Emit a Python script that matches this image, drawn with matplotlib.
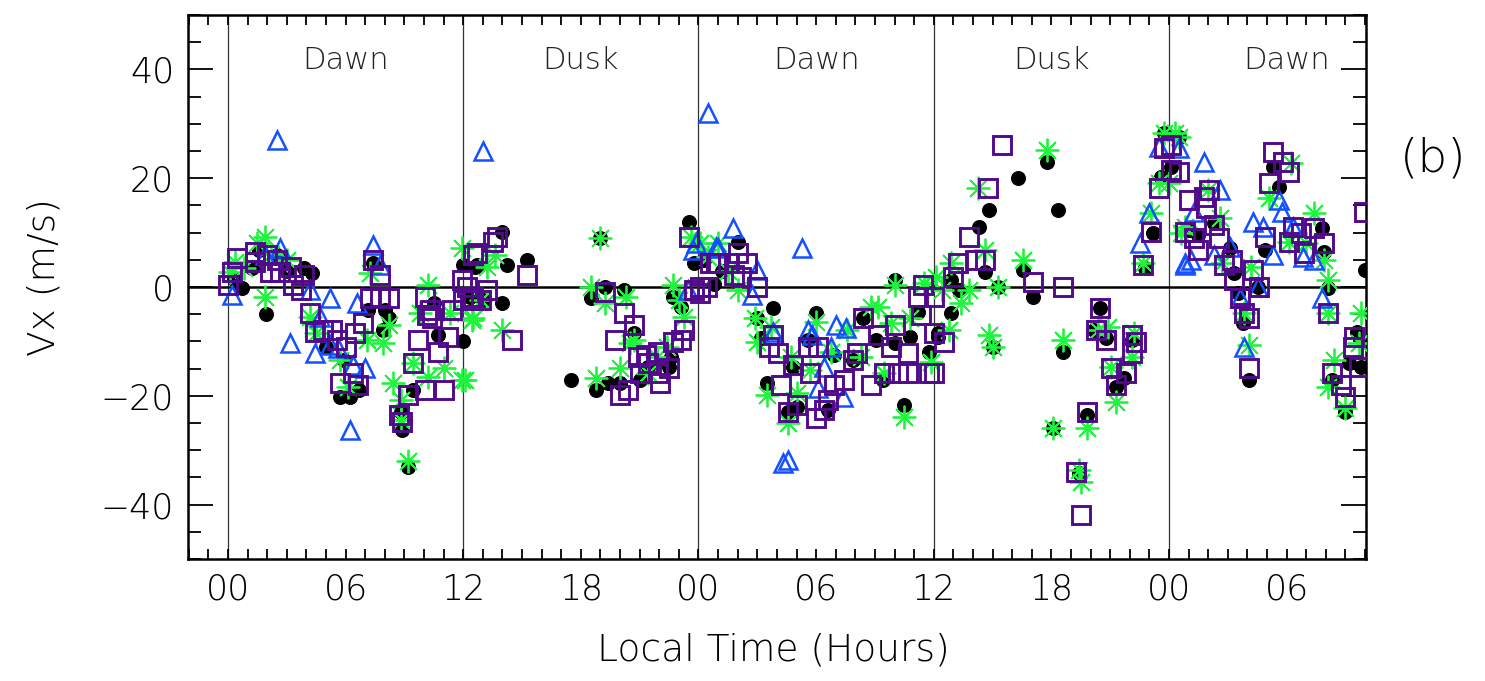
import matplotlib
matplotlib.use("Agg")
import matplotlib.pyplot as plt
from matplotlib.ticker import MultipleLocator, FixedLocator

# ---------------- data (local time in hours, Vx in m/s) ----------------
black_t = [1.94, 0.7, 1.6, 2.5, 3.9, 7.4, 7.15, 8.0, 8.2, 7.9, 5.0, 5.7, 6.2, 6.7, 8.9, 9.45, 10.5, 10.7,
           12.0, 12.0, 12.6, 5.9, 8.8, 9.2, 0.3, 1.2, 3.0, 4.3,
           14.0, 14.25, 15.25, 14.0, 12.7, 17.5, 18.75, 19.4, 20.0, 18.5, 19.25, 20.2, 19.0, 20.7, 21.4,
           21.0, 22.6, 22.5, 22.7, 23.1, 23.5, 23.75, 13.0, 12.35,
           26.0, 27.8, 30.0, 27.0, 27.2, 27.5, 28.55, 29.05, 28.8, 30.6, 32.4, 34.0, 33.05, 34.8, 35.75,
           34.5, 36.2, 33.4, 29.6, 30.9, 31.9, 34.0, 35.2, 24.3, 25.2, 24.8,
           41.8, 40.3, 38.8, 38.3, 42.35, 38.6, 40.55, 41.05, 37.3, 36.9, 36.9, 36.2, 39.3, 39.0, 42.6,
           44.5, 44.8, 44.2, 43.8, 42.1, 45.3, 45.7, 46.1, 46.8, 47.2, 47.75, 47.6, 43.4,
           48.1, 52.9, 51.8, 52.1, 51.5, 52.55, 51.1, 51.3, 49.5, 53.3, 53.6, 55.8, 55.9, 56.1, 58.0,
           57.6, 57.2, 57.8, 57.0, 56.3, 50.3, 48.5, 49.0]
black_v = [-5.0, -0.2, 6.8, 5.9, 3.5, 4.4, -4.2, -4.2, -5.7, -7.9, -11.0, -20.2, -20.2, -19.0, -26.3, -19.0, -3.0, -8.8,
           4.0, -10.0, 3.7, -13.4, -23.0, -33.0, 1.5, 3.5, 3.0, 2.5,
           10.1, 4.0, 5.0, -3.0, 4.0, -17.1, -19.0, -17.6, -17.6, -2.0, 0.0, -0.5, 9.0, -8.5, -14.7,
           -17.1, -12.9, -14.7, -1.8, -3.7, 12.0, 4.4, -2.4, -1.8,
           8.3, -3.9, -4.8, -5.7, -9.4, -17.6, -23.0, -22.0, -14.7, -22.6, -5.7, 1.3, -9.7, -9.2, -11.9,
           -21.7, -9.2, -17.1, -9.7, -12.5, -13.4, -10.3, -4.6, 5.0, 3.0, 0.5,
           23.0, 20.0, 14.2, 11.1, 14.2, 2.8, 3.1, -1.8, -0.5, 1.3, -4.8, -8.5, 0.0, -11.0, -11.9,
           -3.9, -9.4, -7.9, -23.5, -25.9, -18.4, -16.7, -9.7, 3.5, 9.9, 28.3, 20.2, -34.2,
           22.0, 6.8, -6.6, -17.1, -1.1, 0.0, 7.2, 2.6, 9.6, 22.0, 18.4, 10.8, 6.4, -0.2, 3.1,
           -8.3, -14.0, -14.7, -23.0, -17.1, 11.8, 27.5, 10.5]

green_t = [1.9, 1.5, 0.1, 0.35, 1.9, 3.0, 4.2, 4.5, 5.7, 6.1, 7.25, 7.9, 8.2, 7.1, 8.4, 8.8, 10.2, 9.8,
           9.45, 10.2, 11.0, 11.95, 11.95, 12.5, 11.3, 8.8, 9.2, 0.8, 2.2,
           13.2, 13.6, 12.45, 14.0, 12.1, 12.9, 19.0, 18.5, 19.25, 20.3, 18.75, 20.0, 20.5, 20.7, 22.7,
           23.0, 23.25, 22.4, 21.9, 21.4, 24.1, 23.6,
           25.0, 26.0, 26.9, 27.0, 27.7, 27.5, 28.55, 29.05, 29.7, 30.0, 28.7, 30.75, 32.3, 33.15, 32.8,
           34.0, 35.5, 34.5, 35.85, 33.8, 34.8, 33.45, 31.6, 24.5, 25.5,
           41.8, 38.25, 38.6, 36.9, 40.55, 37.4, 36.4, 37.8, 39.3, 36.8, 38.8, 39.0, 42.6, 42.1, 43.8,
           43.4, 43.5, 45.3, 46.1, 45.05, 44.4, 44.9, 46.2, 46.7, 47.1, 47.5, 47.75, 48.5, 36.1,
           48.3, 48.0, 50.0, 50.6, 48.8, 50.7, 52.2, 53.1, 54.2, 55.4, 55.9, 56.1, 56.1, 57.8, 56.4,
           56.1, 57.0, 52.1, 51.85, 54.1, 55.0, 48.6, 57.7]
green_v = [9.2, 8.1, 2.8, 4.6, -1.8, 5.0, -5.5, -8.5, -13.4, -18.4, 2.6, -10.3, -7.0, -9.7, -17.6, -20.8, 0.4, -4.8,
           -14.0, -16.5, -14.9, -17.1, 7.2, -5.7, -4.8, -24.4, -32.0, 3.5, 6.0,
           3.7, 5.9, -6.0, -7.9, -17.1, -2.4, 9.0, 0.0, -3.0, -1.8, -16.7, -14.9, -10.3, -9.7, 0.4,
           -2.4, -5.5, -11.0, -12.9, -15.8, 8.1, 9.2,
           8.1, -0.5, -5.7, -10.1, -7.4, -19.9, -25.0, -19.5, -15.3, -6.4, -12.9, -11.9, -12.9, -3.7, -3.7,
           0.4, 0.7, -23.9, -13.8, -6.6, -5.7, -15.8, -7.9, 5.5, 3.0,
           25.2, 18.2, 6.8, 4.4, 5.0, -2.9, -0.5, -0.5, 0.0, -7.9, -8.8, -11.0, -9.7, -25.9, -25.9,
           -33.6, -35.8, -21.1, -12.9, -14.7, -7.9, -7.4, -8.5, 4.4, 13.6, 19.1, 28.3, 27.6, 1.8,
           28.3, 19.1, 17.8, 12.7, 11.0, 4.4, 3.7, 16.4, 22.8, 13.6, 5.0, 1.3, -4.8, -4.8, -13.4,
           -18.4, -22.2, -10.7, -4.8, 8.3, 8.1, 9.9, -10.3]

blue_t = [7.4, 7.75, 5.2, 3.17, 4.45, 6.4, 7.0, 6.2, 0.2, 2.65, 4.2, 6.6, 2.5, 5.2, 5.6, 4.7, 1.9,
          13.0, 23.7, 24.9, 23.45,
          24.5, 25.75, 29.3, 25.0, 27.0, 26.75, 27.8, 29.6, 29.8, 31.0, 31.5, 30.75, 30.1, 31.35,
          28.3, 28.55, 30.4, 23.85,
          47.0, 46.5, 47.5, 48.8,
          49.8, 50.6, 48.8, 49.1, 52.3, 52.8, 50.3, 51.1, 51.6, 51.85, 53.6, 53.75, 53.3, 52.55,
          54.35, 54.85, 55.4, 55.8, 49.3, 48.5]
blue_v = [7.7, 4.0, -2.0, -10.3, -12.1, -14.3, -14.9, -26.3, -1.5, 7.2, -0.5, -3.0, 27.0, -10.7, -11.3, -5.5, 5.9,
          25.0, 6.8, 7.4, -0.5,
          32.0, 10.8, 7.2, 7.2, 3.1, -1.5, -8.3, -7.9, -8.8, -7.0, -7.5, -11.0, -18.6, -20.2,
          -32.4, -31.8, -14.7, 8.1,
          13.6, 8.1, 25.7, 4.0,
          23.0, 17.8, 4.4, 5.0, 12.0, 11.1, 5.9, 7.4, -2.0, -11.0, 16.0, 13.8, 5.9, 0.0,
          11.0, 5.5, 5.0, -2.0, 13.8, 25.5]

purple_t = [0.0, 0.2, 0.45, 1.4, 1.4, 2.0, 2.15, 2.5, 2.65, 3.2, 3.3, 3.9, 3.7, 4.2, 4.45, 4.85, 5.3, 5.55,
            6.0, 5.7, 6.4, 6.65, 6.5, 6.9, 7.4, 7.75, 7.25, 8.2, 7.75, 8.7, 8.9, 9.2, 9.45, 9.7, 10.05,
            10.15, 10.4, 10.7, 10.05, 11.0, 11.2, 11.45, 11.95, 12.2, 12.5, 12.5, 10.3,
            12.7, 13.5, 13.7, 13.2, 12.9, 12.35, 12.0, 15.25, 14.5, 19.25, 20.2, 20.7, 19.75, 20.0,
            20.4, 21.0, 21.3, 21.45, 21.95, 21.95, 22.05, 22.5, 22.7, 23.1, 23.25, 23.5, 23.75, 24.1,
            24.45, 24.6, 24.9, 20.9,
            25.0, 25.5, 26.0, 26.5, 25.8, 26.15, 27.0, 24.1, 27.8, 27.6, 28.05, 28.2, 28.55, 29.05,
            28.8, 29.6, 30.1, 29.7, 30.0, 30.4, 30.6, 30.9, 31.4, 31.9, 32.1, 32.4, 32.8, 33.45, 34.2,
            34.7, 35.75, 33.8, 34.0, 34.7, 35.2, 35.35, 36.0, 35.45, 36.0, 33.15,
            39.5, 38.75, 37.8, 38.6, 38.1, 37.25, 37.0, 41.05, 42.6, 36.5, 36.0, 44.5, 44.3, 44.8,
            46.1, 46.3, 46.1, 45.05, 45.8, 45.3, 43.8, 43.25, 43.5, 46.7, 47.1, 47.5, 47.75, 48.1,
            48.1, 48.5, 49.0,
            49.8, 50.05, 49.9, 48.8, 49.3, 49.5, 50.3, 50.55, 50.8, 51.2, 51.3, 51.6, 51.85, 52.1,
            52.1, 52.3, 52.6, 52.9, 53.3, 53.8, 54.1, 53.1, 54.35, 54.1, 54.75, 54.9, 55.4, 55.9,
            56.1, 56.3, 56.8, 57.0, 57.4, 57.7, 57.45, 57.95]
purple_v = [0.3, 2.8, 5.3, 6.5, 4.6, 5.9, 2.8, 5.0, 2.8, 3.7, 0.4, 2.2, -0.5, -4.8, -8.2, -7.9, -7.9, -9.7,
            -11.0, -17.6, -15.8, -18.0, -8.5, -6.6, 5.0, 2.2, -2.0, -2.0, -1.8, -23.5, -24.8, -19.9, -14.0, -9.7, -1.8,
            -5.1, -5.7, -11.9, -19.0, -19.0, -9.2, -4.2, 1.3, 0.0, 5.9, -1.8, -4.2,
            6.2, 8.3, 9.2, -0.5, -2.4, -1.8, -2.4, 2.2, -9.7, -0.9, -4.8, -7.0, -9.7, -19.9,
            -19.0, -15.8, -12.5, -14.0, -11.9, -15.8, -17.6, -14.9, -10.1, -9.7, -7.9, 9.2, -0.5, -1.1,
            0.0, 4.4, 4.4, -12.9,
            4.4, 4.4, 6.2, 4.4, 2.2, 1.8, 0.0, 0.0, -8.8, -11.0, -12.1, -18.0, -23.0, -21.7,
            -14.3, -11.0, -11.0, -15.8, -24.1, -22.6, -20.8, -18.0, -17.1, -13.4, -12.1, -5.7, -18.0, -15.8, -15.8,
            -15.8, -15.8, -11.0, -7.0, -12.1, -1.8, -5.1, -8.5, 0.4, -1.8, -8.8,
            26.1, 18.2, 9.2, 5.0, 5.0, 4.4, 1.8, 0.9, 0.0, -10.1, -15.8, -3.9, -7.9, -9.7,
            -8.8, -10.1, -12.1, -14.9, -15.8, -18.0, -23.0, -34.0, -41.9, 4.0, 10.1, 18.2, 25.6, 26.1,
            21.5, 21.1, 16.0,
            16.5, 17.8, 14.5, 10.1, 9.0, 6.8, 11.4, 9.0, 4.0, 5.0, 1.3, -2.0, -4.8, -5.7,
            -14.9, 3.1, 0.0, 9.2, 24.8, 23.0, 21.1, 19.1, 11.0, 8.3, 9.9, 6.2, 10.8, 8.1,
            -4.8, -15.8, -18.0, -20.2, -11.0, -14.7, -9.2, 13.8]

xtick_pos = [0, 6, 12, 18, 24, 30, 36, 42, 48, 54]
xtick_lab = ["00", "06", "12", "18", "00", "06", "12", "18", "00", "06"]
sector_pos = [6, 18, 30, 42, 54]
sector_lab = ["Dawn", "Dusk", "Dawn", "Dusk", "Dawn"]
divider_pos = [0, 12, 24, 36, 48]

# ---------------- figure ----------------
plt.rcParams['font.family'] = ['DejaVu Sans']
fig = plt.figure(figsize=(14.85, 6.81), dpi=100)
ax = fig.add_axes([188/1485, 1-559/681, (1366-188)/1485, (559-15)/681])

purple = '#520a8c'
green = '#1cf53c'
blue = '#1450ff'

ax.plot(black_t, black_v, 'o', color='black', ms=9.8, zorder=3)
ax.plot(green_t, green_v, ls='none', marker=(8, 2, 0), color=green, ms=17, mew=1.3, zorder=4)
ax.plot(blue_t, blue_v, '^', mfc='none', mec=blue, ms=13, mew=1.8, zorder=5)
ax.plot(purple_t, purple_v, 's', mfc='none', mec=purple, ms=13, mew=2.1, zorder=6)

for d in divider_pos:
    ax.axvline(d, color='#333333', lw=0.9, zorder=1)
ax.axhline(0, color='black', lw=1.8, zorder=2)

for p, lab in zip(sector_pos, sector_lab):
    ax.text(p, 41.6, lab, ha='center', va='center', fontsize=22, fontweight='light', color='#222222')

ax.set_xlim(-2.04, 58.05)
ax.set_ylim(-50, 50)
ax.xaxis.set_major_locator(FixedLocator(xtick_pos))
ax.set_xticklabels(xtick_lab)
ax.xaxis.set_minor_locator(MultipleLocator(1))
ax.yaxis.set_major_locator(MultipleLocator(20))
ax.yaxis.set_minor_locator(MultipleLocator(5))

ax.tick_params(axis='x', which='both', direction='in', top=True, bottom=True, length=7.5, width=1.3,
               labelsize=25, pad=10)
ax.tick_params(axis='y', which='major', direction='in', left=True, right=True, length=18, width=1.3,
               labelsize=25, pad=10)
ax.tick_params(axis='y', which='minor', direction='in', left=True, right=True, length=9.5, width=1.3)
for lab in ax.get_xticklabels() + ax.get_yticklabels():
    lab.set_fontweight('light')
for s in ax.spines.values():
    s.set_linewidth(1.8)

ax.set_xlabel('Local Time (Hours)', fontsize=27, fontweight='light', va='top')
ax.xaxis.set_label_coords(0.4966, (559-633)/544)
ax.set_ylabel('Vx (m/s)', fontsize=27, fontweight='light', va='center')
ax.yaxis.set_label_coords((44-188)/1178, (559-277)/544)

fig.text(1433/1485, 1-158/681, '(b)', fontsize=34, fontweight='light', ha='center', va='center')

fig.savefig('out.png', dpi=100)
